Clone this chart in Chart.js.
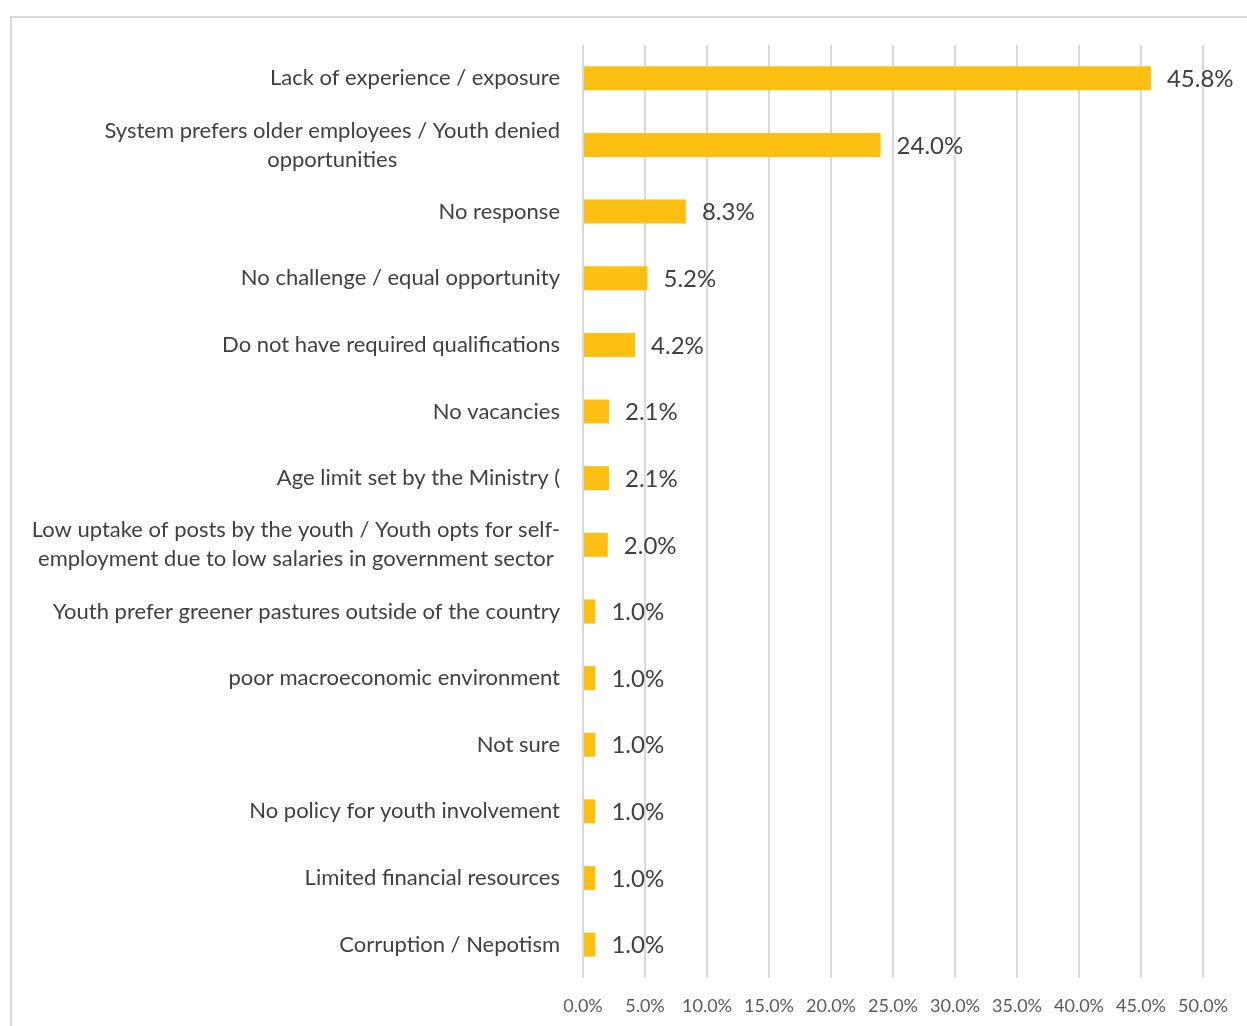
<!DOCTYPE html>
<html>
<head>
<meta charset="utf-8">
<script src="https://cdn.jsdelivr.net/npm/chart.js@4.4.1/dist/chart.umd.min.js"></script>
<style>
    html, body { margin: 0; padding: 0; background: #fff; }
    #frame {
        position: absolute; left: 10px; top: 16px; width: 1300px; height: 1100px;
        border-top: 2px solid #d9d9d9; border-left: 2px solid #d9d9d9;
    }
    #challengesChart { position: absolute; left: 0; top: 0; }
</style>
</head>
<body>
<div id="frame"></div>
<canvas id="challengesChart" width="1247" height="1026"></canvas>
<script>
// Challenges faced by youth in getting public sector jobs (% of responses)
const categories = [
    ['Lack of experience / exposure'],
    ['System prefers older employees / Youth denied', 'opportunities'],
    ['No response'],
    ['No challenge / equal opportunity'],
    ['Do not have required qualifications'],
    ['No vacancies'],
    ['Age limit set by the Ministry ('],
    ['Low uptake of posts by the youth / Youth opts for self-', 'employment due to low salaries in government sector'],
    ['Youth prefer greener pastures outside of the country'],
    ['poor macroeconomic environment'],
    ['Not sure'],
    ['No policy for youth involvement'],
    ['Limited financial resources'],
    ['Corruption / Nepotism']
];
const percentages = [45.8, 24.0, 8.3, 5.2, 4.2, 2.1, 2.1, 2.0, 1.0, 1.0, 1.0, 1.0, 1.0, 1.0];
const xTicks = [0, 5, 10, 15, 20, 25, 30, 35, 40, 45, 50];

const FONT = 'Lato, "Open Sans", sans-serif';
const TEXT = '#404040';

// y labels are drawn by hand so two-line labels stay centred on each other
const categoryLabels = {
    id: 'categoryLabels',
    afterDraw(chart) {
        const { ctx, scales: { y } } = chart;
        const right = y.right - 23;
        const lh = 29;
        ctx.save();
        ctx.font = '22px ' + FONT;
        ctx.fillStyle = TEXT;
        ctx.textAlign = 'center';
        ctx.textBaseline = 'middle';
        categories.forEach((lines, i) => {
            const cy = y.getPixelForValue(i);
            const w = Math.max(...lines.map(l => ctx.measureText(l).width));
            const cx = right - w / 2;
            lines.forEach((line, j) => {
                ctx.fillText(line, cx, cy - (lines.length - 1) * lh / 2 + j * lh);
            });
        });
        ctx.restore();
    }
};

const valueLabels = {
    id: 'valueLabels',
    afterDatasetsDraw(chart) {
        const { ctx, scales: { x, y } } = chart;
        ctx.save();
        ctx.font = '24px ' + FONT;
        ctx.fillStyle = TEXT;
        ctx.textAlign = 'left';
        ctx.textBaseline = 'middle';
        percentages.forEach((v, i) => {
            ctx.fillText(v.toFixed(1) + '%', x.getPixelForValue(v) + 16, y.getPixelForValue(i) + 1);
        });
        ctx.restore();
    }
};

new Chart(document.getElementById('challengesChart'), {
    type: 'bar',
    data: {
        labels: categories,
        datasets: [{
            data: percentages,
            backgroundColor: '#FDBF12',
            barPercentage: 0.72,
            categoryPercentage: 0.5
        }]
    },
    options: {
        indexAxis: 'y',
        responsive: false,
        animation: false,
        layout: { padding: { top: 45, right: 44, left: 0, bottom: 0 } },
        plugins: {
            legend: { display: false },
            tooltip: { enabled: false }
        },
        scales: {
            x: {
                min: 0,
                max: 50,
                afterBuildTicks: scale => { scale.ticks = xTicks.map(v => ({ value: v })); },
                afterFit: scale => { scale.height = 48; },
                border: { display: false },
                grid: { color: '#d9d9d9', lineWidth: 2, drawTicks: false },
                ticks: {
                    padding: 17,
                    color: '#595959',
                    font: { family: FONT, size: 18 },
                    callback: v => v.toFixed(1) + '%'
                }
            },
            y: {
                afterFit: scale => { scale.width = 583; },
                border: { display: false },
                grid: { display: false },
                ticks: { display: false }
            }
        }
    },
    plugins: [categoryLabels, valueLabels]
});
</script>
</body>
</html>
